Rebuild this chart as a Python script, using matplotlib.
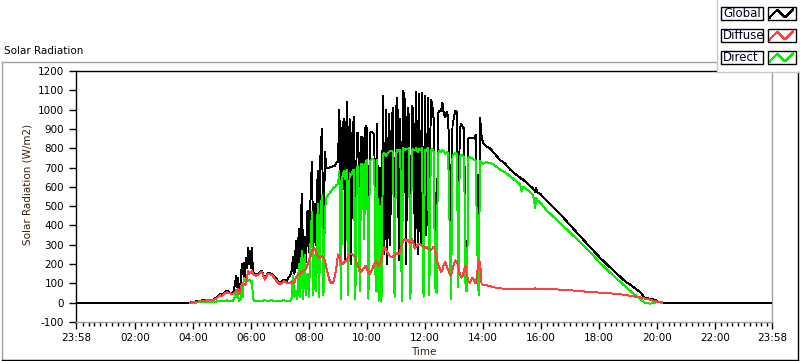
import numpy as np
import matplotlib
matplotlib.use('Agg')
import matplotlib.pyplot as plt
from matplotlib.patches import Rectangle

# ---------------- data (time in minutes after 00:00) ----------------
am_time = [234, 238, 250, 259, 270, 281, 288, 292, 296, 300, 306, 310, 316, 323, 327, 329, 331, 333,
           335, 339, 341, 343, 345, 347, 350, 352, 354, 356, 358, 360, 362, 364, 366, 370, 375, 382,
           389, 395, 403, 412, 420, 428, 434, 438]
am_global = [0, 3, 8, 12, 14, 15, 25, 35, 45, 40, 55, 62, 52, 50, 95, 140, 80, 130,
             45, 110, 200, 150, 207, 120, 230, 180, 285, 200, 270, 180, 285, 160, 155, 145, 150, 165,
             124, 155, 150, 125, 98, 120, 114, 130]
am_direct = [0, 0, 1, 2, 2, 3, 5, 8, 10, 8, 10, 12, 8, 10, 35, 48, 30, 45,
             10, 20, 60, 30, 130, 110, 125, 115, 120, 110, 120, 100, 115, 30, 10, 8, 10, 10,
             12, 10, 12, 8, 10, 12, 10, 10]
am_diffuse = [0, 2, 6, 10, 12, 14, 20, 30, 38, 35, 48, 55, 48, 45, 55, 65, 60, 70,
              45, 70, 95, 100, 95, 90, 100, 130, 165, 150, 160, 155, 165, 150, 145, 140, 145, 160,
              120, 150, 145, 115, 95, 110, 105, 100]

# 07:21 .. 14:00, one sample every 3 minutes
mid_start, mid_step = 441, 3
mid_global = [140, 165, 235, 150, 321, 180, 383, 200, 565, 230,
              340, 210, 477, 260, 520, 727, 280, 513, 300, 684,
              260, 790, 900, 250, 780, 700, 695, 700, 705, 705,
              710, 710, 725, 730, 1000, 200, 900, 950, 220, 1040,
              260, 950, 200, 880, 960, 250, 880, 875, 300, 860,
              855, 400, 917, 900, 240, 880, 885, 880, 870, 285,
              927, 150, 700, 120, 1072, 250, 1000, 200, 980, 300,
              950, 1010, 180, 1000, 1062, 220, 950, 100, 1098, 1050,
              200, 1010, 960, 150, 1020, 1000, 300, 1090, 250, 1080,
              300, 1085, 200, 1070, 350, 1060, 280, 1050, 1030, 950,
              300, 60, 980, 995, 990, 1036, 980, 960, 990, 960,
              700, 124, 917, 960, 995, 990, 310, 900, 927, 910,
              900, 200, 72, 850, 855, 850, 855, 850, 870, 500,
              228, 958, 865, 830]
mid_direct = [10, 20, 140, 30, 60, 20, 200, 30, 270, 20,
              250, 40, 150, 30, 300, 470, 40, 250, 60, 510,
              30, 480, 560, 40, 480, 545, 555, 565, 575, 585,
              595, 600, 610, 615, 680, 20, 650, 680, 640, 690,
              40, 670, 660, 680, 690, 20, 700, 710, 60, 720,
              715, 330, 730, 740, 20, 735, 740, 745, 740, 60,
              740, 10, 500, 5, 770, 775, 760, 770, 780, 785,
              785, 780, 30, 770, 790, 785, 790, 10, 800, 790,
              795, 795, 800, 20, 790, 795, 790, 800, 780, 795,
              790, 800, 30, 790, 785, 800, 40, 790, 795, 780,
              80, 50, 770, 790, 780, 790, 785, 770, 780, 775,
              400, 20, 765, 770, 775, 770, 80, 760, 765, 760,
              755, 60, 60, 750, 755, 750, 745, 740, 735, 300,
              40, 735, 725, 720]
mid_diffuse = [100, 110, 100, 105, 130, 140, 150, 150, 160, 165,
               170, 175, 200, 220, 240, 270, 285, 280, 260, 240,
               233, 233, 240, 235, 220, 180, 150, 120, 105, 100,
               110, 140, 190, 250, 240, 210, 200, 205, 215, 220,
               235, 250, 255, 250, 240, 235, 200, 185, 175, 160,
               170, 180, 190, 175, 160, 150, 165, 180, 200, 215,
               210, 190, 200, 230, 260, 290, 280, 260, 250, 240,
               235, 240, 245, 250, 260, 250, 270, 300, 320, 330,
               320, 325, 315, 310, 330, 310, 280, 290, 300, 305,
               300, 295, 290, 285, 290, 280, 275, 270, 280, 290,
               270, 230, 200, 180, 160, 170, 200, 210, 190, 170,
               150, 140, 170, 200, 220, 210, 190, 150, 130, 140,
               170, 192, 140, 110, 100, 120, 130, 110, 100, 150,
               220, 210, 100, 90]

pm_time = [846, 855, 862, 875, 886, 896, 906, 917, 920, 923, 937, 944, 948, 950, 953,
           958, 972, 999, 1027, 1055, 1082, 1110, 1137, 1144, 1165, 1175, 1186, 1196, 1202, 1210]
pm_global = [810, 798, 777, 740, 720, 690, 668, 648, 640, 638, 606, 590, 575, 592, 570,
             565, 528, 461, 383, 306, 233, 166, 104, 95, 55, 25, 20, 15, 5, 0]
pm_direct = [728, 724, 715, 690, 675, 655, 635, 612, 575, 600, 575, 555, 490, 540, 530,
             520, 477, 414, 347, 280, 207, 140, 78, 62, 20, 0, -5, 0, 3, 0]
pm_diffuse = [92, 85, 80, 74, 73, 72, 72, 73, 72, 71, 71, 72, 75, 71, 70,
              70, 70, 68, 63, 57, 52, 47, 40, 36, 28, 22, 15, 8, 5, 2]

night_time = [-2, 1438]          # chart spans 23:58 .. 23:58
x_tick_labels = ['23:58', '02:00', '04:00', '06:00', '08:00', '10:00', '12:00',
                 '14:00', '16:00', '18:00', '20:00', '22:00', '23:58']
series_names = ['Global', 'Diffuse', 'Direct']
series_colors = ['#000000', '#ff4040', '#00f000']

# ---------------- assemble ----------------
mid_time = list(mid_start + mid_step * np.arange(len(mid_global)))
day_time = np.array(am_time + mid_time + pm_time, dtype=float)
g_time = np.concatenate([[night_time[0]], day_time, [night_time[1]]])
g_vals = np.concatenate([[0], am_global + mid_global + pm_global, [0]])
dif_vals = np.array(am_diffuse + mid_diffuse + pm_diffuse, dtype=float)
dir_vals = np.array(am_direct + mid_direct + pm_direct, dtype=float)

W, H = 800, 361
plt.rcParams['font.family'] = ['DejaVu Sans']
plt.rcParams['axes.unicode_minus'] = False
fig = plt.figure(figsize=(W / 100, H / 100), dpi=100)
fig.patch.set_facecolor('white')

ax = fig.add_axes([76 / W, 39 / H, 696 / W, 251 / H])
ax.plot(g_time, g_vals, color=series_colors[0], lw=0.7, antialiased=False, zorder=3)
ax.plot(day_time, dir_vals, color=series_colors[2], lw=0.7, antialiased=False, zorder=4)
ax.plot(day_time, dif_vals, color=series_colors[1], lw=0.7, antialiased=False, zorder=5)

ax.set_xlim(night_time[0], night_time[1])
ax.set_ylim(-100, 1200)
ax.set_yticks(np.arange(-100, 1201, 100))
major = [night_time[0]] + list(range(120, 1321, 120)) + [night_time[1]]
ax.set_xticks(major)
ax.set_xticklabels(x_tick_labels)
minor = [m for m in range(12, 1438, 12) if m % 120 != 0]
ax.set_xticks(minor, minor=True)
ax.tick_params(axis='both', which='major', direction='out', length=5, width=1,
               labelsize=7.5, colors='black')
ax.tick_params(axis='x', which='major', pad=3)
ax.tick_params(axis='x', which='minor', direction='out', length=3, width=1)
ax.tick_params(axis='y', which='minor', left=False)
for s in ['left', 'top']:
    ax.spines[s].set_color('black')
    ax.spines[s].set_linewidth(1)
for s in ['right', 'bottom']:
    ax.spines[s].set_color('#a0a0a0')
    ax.spines[s].set_linewidth(1)

ax.set_ylabel('Solar Radiation (W/m2)', fontsize=7.5, color='#3c2010')
ax.yaxis.set_label_coords(-0.062, 0.55)
ax.set_xlabel('Time', fontsize=7.5, color='#3c2010')
ax.xaxis.set_label_coords(0.5, -0.1)

# ---------------- overlay (frame, title, legend) in pixel coordinates ----------------
ov = fig.add_axes([0, 0, 1, 1], zorder=10)
ov.set_xlim(0, W)
ov.set_ylim(H, 0)
ov.axis('off')
ov.patch.set_alpha(0)

ov.plot([1.5, 1.5], [61.5, 359.5], color='#a0a0a0', lw=1)
ov.plot([1.5, 717], [61.5, 61.5], color='#a0a0a0', lw=1)
ov.plot([797.5, 797.5], [72, 359.5], color='black', lw=1)
ov.plot([1.5, 797.5], [359.5, 359.5], color='black', lw=1)
ov.text(4, 51, 'Solar Radiation', fontsize=7.5, ha='left', va='center', color='black')

# legend panel
ov.add_patch(Rectangle((717, -1), 90, 73, facecolor='white', edgecolor='none'))
ov.plot([717, 717], [0, 72], color='#c8c8c8', lw=1)
ov.plot([717, 800], [72, 72], color='#c8c8c8', lw=1)
row_top = [7, 29, 51]
for name, col, yt in zip(series_names, series_colors, row_top):
    ov.add_patch(Rectangle((721, yt), 42, 13, facecolor='white', edgecolor='black', lw=1))
    ov.text(723, yt + 6.7, name, fontsize=8.5, ha='left', va='center', color='#000020')
    ov.add_patch(Rectangle((768, yt), 28, 13, facecolor='white', edgecolor='black', lw=1))
    zx = [770, 777, 785, 793]
    zy = [yt + 10.5, yt + 2.5, yt + 10.5, yt + 2.5]
    ov.plot(zx, zy, color=col, lw=0.6, antialiased=False)

fig.savefig('out.png', dpi=100)
